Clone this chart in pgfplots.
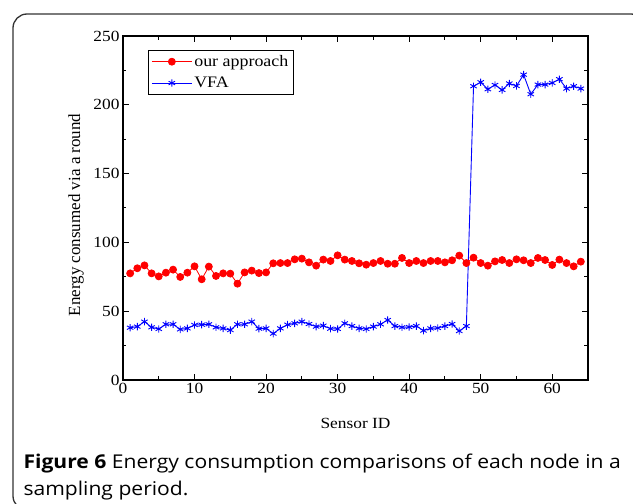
\documentclass[border=0pt]{standalone}
\usepackage{fontspec}
\setmainfont{Liberation Serif}[FakeStretch=1.12]
\newfontfamily\ylabfont{Liberation Serif}
\newfontfamily\capfont{Open Sans}[FakeStretch=1.11]
\usepackage{pgfplots}
\pgfplotsset{compat=1.18}

% energy per node, our approach
\pgfplotstableread{
x y
1 77.5
2 81.2
3 83.3
4 77.5
5 75.3
6 78.0
7 80.2
8 74.9
9 78.0
10 82.6
11 73.2
12 82.4
13 75.6
14 77.5
15 77.3
16 70.0
17 78.2
18 79.5
19 77.7
20 78.2
21 84.8
22 85.0
23 85.0
24 87.7
25 88.2
26 85.5
27 83.1
28 87.5
29 86.5
30 90.6
31 87.5
32 86.5
33 84.8
34 83.8
35 85.0
36 86.5
37 84.5
38 84.5
39 88.7
40 85.0
41 86.5
42 85.0
43 86.5
44 86.5
45 85.5
46 87.0
47 90.4
48 85.0
49 88.9
50 85.0
51 83.1
52 86.2
53 87.2
54 85.0
55 87.7
56 87.0
57 85.0
58 88.7
59 87.2
60 83.6
61 87.5
62 85.0
63 82.6
64 86.0
}\ours

% energy per node, VFA
\pgfplotstableread{
x y
1 38.0
2 38.8
3 42.4
4 38.3
5 37.1
6 40.5
7 40.5
8 36.8
9 37.5
10 40.0
11 40.2
12 40.5
13 38.3
14 37.5
15 36.3
16 40.5
17 40.5
18 42.4
19 37.3
20 37.5
21 33.7
22 37.5
23 40.2
24 41.2
25 42.4
26 40.7
27 38.8
28 39.5
29 37.3
30 37.1
31 41.2
32 39.2
33 37.5
34 37.1
35 38.8
36 40.5
37 43.6
38 39.2
39 38.3
40 38.5
41 39.2
42 35.9
43 37.5
44 37.8
45 39.2
46 40.7
47 35.6
48 39.2
49 213.5
50 216.4
51 211.3
52 214.4
53 210.8
54 215.5
55 213.7
56 221.9
57 207.7
58 214.7
59 214.7
60 215.9
61 218.6
62 211.8
63 213.5
64 211.8
}\vfa

\begin{document}
\begin{tikzpicture}[x=1pt,y=1pt]
\useasboundingbox (0,0) rectangle (633,504);
\draw[line width=1.3pt, black!80, rounded corners=14pt] (13,-6) rectangle (645,490);
\begin{axis}[
    at={(123pt,124pt)}, anchor=south west,
    scale only axis, width=465pt, height=344pt,
    xmin=0, xmax=65, ymin=0, ymax=250,
    xtick={0,10,...,60}, ytick={0,50,...,250},
    minor x tick num=1, minor y tick num=1,
    tick align=inside,
    major tick length=6pt, minor tick length=3.5pt,
    every tick/.style={black, line width=1pt},
    axis line style={line width=1.3pt},
    /pgf/number format/assume math mode=true,
    ticklabel style={font=\fontsize{15.5}{18}\selectfont},
    xlabel={Sensor ID},
    xlabel style={font=\fontsize{15.5}{18}\selectfont, at={(axis description cs:0.5,-0.125)}, anchor=center},
    ylabel={Energy consumed via a round},
    ylabel style={font=\ylabfont\fontsize{17}{20}\selectfont, at={(axis description cs:-0.101,0.48)}, anchor=center},
    legend style={at={(0.054,0.959)}, anchor=north west, draw=black, line width=0.6pt,
        font=\fontsize{16}{19}\selectfont, inner xsep=3pt, inner ysep=3pt,
        row sep=5pt},
    legend cell align=left,
    legend image code/.code={
        \draw[mark repeat=2, mark phase=2] plot coordinates {(0pt,0pt) (20pt,0pt) (40pt,0pt)};
    },
]
\addplot[red, line width=0.8pt, mark=*, mark size=3.5pt] table[x=x, y=y] {\ours};
\addplot[blue, line width=0.9pt, mark=asterisk, mark size=3.7pt, mark options={line width=0.9pt}] table[x=x, y=y] {\vfa};
\legend{our approach, VFA}
\end{axis}
\node[anchor=base west, font=\capfont\fontsize{19}{22}\selectfont] at (20,35)
    {\textbf{Figure 6} Energy consumption comparisons of each node in a};
\node[anchor=base west, font=\capfont\fontsize{19}{22}\selectfont] at (20,8)
    {sampling period.};
\end{tikzpicture}
\end{document}
